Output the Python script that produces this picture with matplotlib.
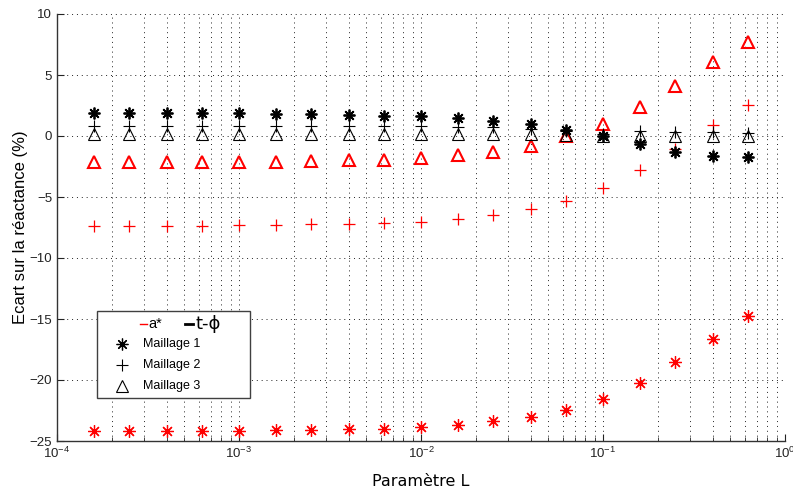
import matplotlib
matplotlib.use("Agg")
import matplotlib.pyplot as plt
from matplotlib.lines import Line2D
from matplotlib.patches import Rectangle

# ---- data ----
L = [1.6e-4, 2.5e-4, 4e-4, 6.3e-4, 1e-3, 1.6e-3, 2.5e-3, 4e-3, 6.3e-3,
     1e-2, 1.6e-2, 2.5e-2, 4e-2, 6.3e-2, 0.1, 0.16, 0.25, 0.4, 0.63]

# a* (red)
a_m1 = [-24.2, -24.2, -24.2, -24.2, -24.2, -24.1, -24.1, -24.05, -24.0,
        -23.85, -23.7, -23.4, -23.0, -22.43, -21.53, -20.25, -18.55, -16.6, -14.78]
a_m2 = [-7.38, -7.38, -7.35, -7.35, -7.3, -7.3, -7.25, -7.25, -7.1,
        -7.02, -6.83, -6.5, -6.01, -5.33, -4.29, -2.8, -1.1, 0.9, 2.54]
a_m3 = [-2.15, -2.15, -2.15, -2.15, -2.15, -2.15, -2.05, -2.0, -1.97,
        -1.78, -1.56, -1.31, -0.79, 0.0, 1.0, 2.38, 4.1, 6.09, 7.68]

# t-phi (black)
t_m1 = [1.85, 1.85, 1.85, 1.85, 1.85, 1.83, 1.78, 1.72, 1.67,
        1.62, 1.45, 1.25, 0.96, 0.52, 0.0, -0.63, -1.28, -1.66, -1.74]
t_m2 = [0.8, 0.8, 0.8, 0.8, 0.8, 0.8, 0.8, 0.8, 0.8,
        0.8, 0.7, 0.75, 0.6, 0.4, 0.15, 0.41, 0.35, 0.3, 0.25]
t_m3 = [0.2, 0.2, 0.2, 0.2, 0.2, 0.2, 0.2, 0.2, 0.2,
        0.18, 0.15, 0.15, 0.14, 0.05, 0.0, 0.0, 0.0, 0.0, 0.0]

xticks = [1e-4, 1e-3, 1e-2, 1e-1, 1e0]
yticks = [-25, -20, -15, -10, -5, 0, 5, 10]
legend_labels = ["Maillage 1", "Maillage 2", "Maillage 3"]

# ---- style ----
plt.rcParams['font.family'] = ['Liberation Sans', 'DejaVu Sans']
plt.rcParams['mathtext.fontset'] = 'custom'
plt.rcParams['mathtext.rm'] = 'Liberation Sans'
plt.rcParams['mathtext.it'] = 'Liberation Sans:italic'
plt.rcParams['axes.unicode_minus'] = True

fig = plt.figure(figsize=(7.93, 4.93), dpi=100)
ax = fig.add_axes([57/793, 1-441/493, (785-57)/793, (441-14)/493])

AST = (8, 2, 0)
red = '#ff0000'

ax.plot(L, a_m1, ls='none', marker=AST, ms=9, mew=0.9, color=red, zorder=3)
ax.plot(L, a_m2, ls='none', marker='+', ms=9, mew=0.9, color=red, zorder=3)
ax.plot(L, a_m3, ls='none', marker='^', ms=9, mew=1.5, mfc='none', mec=red, zorder=3)
ax.plot(L, t_m1, ls='none', marker=AST, ms=8.5, mew=1.3, color='k', zorder=4)
ax.plot(L, t_m2, ls='none', marker='+', ms=9, mew=0.8, color='k', zorder=4)
ax.plot(L, t_m3, ls='none', marker='^', ms=9, mew=0.8, mfc='none', mec='k', zorder=4)

ax.set_xscale('log')
ax.set_xlim(1e-4, 1)
ax.set_ylim(-25, 10)
ax.set_xticks(xticks)
ax.set_yticks(yticks)

gstyle = dict(ls=(0, (1, 4)), color='#222222', lw=0.7)
ax.grid(True, which='major', axis='both', **gstyle)
ax.grid(True, which='minor', axis='x', **gstyle)

for s in ['top', 'right']:
    ax.spines[s].set_visible(False)
for s in ['left', 'bottom']:
    ax.spines[s].set_color('#333333')
    ax.spines[s].set_linewidth(1.0)

ax.tick_params(which='major', direction='in', length=5, labelsize=9.5, colors='#222222')
ax.tick_params(which='minor', direction='in', length=3, colors='#222222')
ax.tick_params(axis='y', which='minor', left=False)

ax.set_ylabel("Ecart sur la réactance (%)", fontsize=12, family=['Liberation Sans', 'DejaVu Sans'], labelpad=1)
ax.set_xlabel("Paramètre L", fontsize=11.5, family=['DejaVu Sans'], labelpad=9)

# ---- manual legend ----
bx0, bx1 = (97-57)/728, (250-57)/728
by0, by1 = (441-398)/427, (441-311)/427
ax.add_patch(Rectangle((bx0, by0), bx1-bx0, by1-by0, transform=ax.transAxes,
                       facecolor='white', edgecolor='#404040', lw=1.0, zorder=6,
                       clip_on=False))
ry = (441-324)/427
ax.add_line(Line2D([(140-57)/728, (147-57)/728], [ry, ry], color=red, lw=1.0,
                   transform=ax.transAxes, zorder=7))
ax.text((148-57)/728, ry, "a*", transform=ax.transAxes, fontsize=10.5,
        va='center', ha='left', zorder=7)
ax.add_line(Line2D([(185-57)/728, (193-57)/728], [ry, ry], color='k', lw=2.0,
                   transform=ax.transAxes, zorder=7))
ax.text((196-57)/728, ry, "t-ϕ", transform=ax.transAxes, fontsize=13,
        family=['DejaVu Sans'], va='center', ha='left', zorder=7)

rows_y = [(441-344)/427, (441-365)/427, (441-386)/427]
mk = [(AST, 8.5, 0.9), ('+', 9, 0.8), ('^', 9, 0.8)]
for yy, lab, (m, ms, mw) in zip(rows_y, legend_labels, mk):
    ax.add_line(Line2D([(122-57)/728], [yy], marker=m, ms=ms, mew=mw, color='k',
                       mfc='none', ls='none', transform=ax.transAxes, zorder=7))
    ax.text((143-57)/728, yy, lab, transform=ax.transAxes, fontsize=9,
            va='center', ha='left', zorder=7)

fig.savefig("out.png", dpi=100)
